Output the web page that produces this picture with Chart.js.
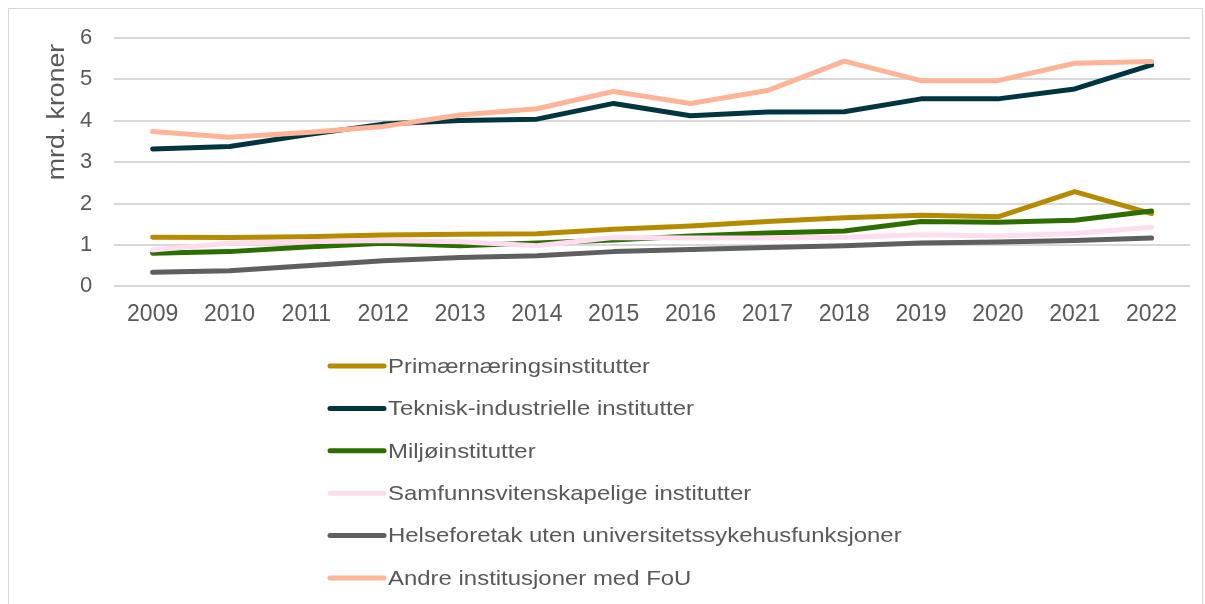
<!DOCTYPE html>
<html>
<head>
<meta charset="utf-8">
<script src="https://cdn.jsdelivr.net/npm/chart.js@4/dist/chart.umd.min.js"></script>
<style>
  html, body { margin: 0; padding: 0; background: #fff; }
  #wrap { width: 1205px; height: 604px; position: relative; }
</style>
</head>
<body>
<div id="wrap"><canvas id="chart" width="1205" height="604"></canvas></div>
<script>
// Data
const years = ['2009', '2010', '2011', '2012', '2013', '2014', '2015', '2016', '2017', '2018', '2019', '2020', '2021', '2022'];
const seriesNames = [
    'Primærnæringsinstitutter',
    'Teknisk-industrielle institutter',
    'Miljøinstitutter',
    'Samfunnsvitenskapelige institutter',
    'Helseforetak uten universitetssykehusfunksjoner',
    'Andre institusjoner med FoU'
];
const primaer   = [1.19, 1.18, 1.20, 1.24, 1.26, 1.27, 1.38, 1.46, 1.57, 1.66, 1.72, 1.68, 2.29, 1.76];
const teknisk   = [3.32, 3.38, 3.66, 3.92, 4.01, 4.04, 4.42, 4.12, 4.21, 4.22, 4.53, 4.53, 4.77, 5.35];
const miljo     = [0.80, 0.84, 0.95, 1.04, 0.98, 1.05, 1.12, 1.22, 1.29, 1.34, 1.57, 1.55, 1.60, 1.82];
const samfunn   = [0.88, 1.04, 1.08, 1.11, 1.08, 0.98, 1.18, 1.17, 1.17, 1.19, 1.25, 1.22, 1.28, 1.43];
const helse     = [0.34, 0.38, 0.50, 0.62, 0.70, 0.74, 0.84, 0.89, 0.94, 0.98, 1.05, 1.07, 1.11, 1.17];
const andre     = [3.74, 3.60, 3.72, 3.86, 4.14, 4.29, 4.71, 4.42, 4.73, 5.44, 4.97, 4.97, 5.39, 5.43];
const yTicks = [0, 1, 2, 3, 4, 5, 6];
const yTitle = 'mrd. kroner';

const colors = ['#B78B00', '#00363F', '#2D6E00', '#FDDDEF', '#5F5F5F', '#FFB497'];
const allSeries = [primaer, teknisk, miljo, samfunn, helse, andre];

const textColor = '#595959';
const fontFamily = '"Liberation Sans", Arial, sans-serif';

// Frame, y title and a one-column legend under the plot
const extras = {
    id: 'extras',
    afterDraw(chart) {
        const ctx = chart.ctx;
        ctx.save();
        ctx.strokeStyle = '#d9d9d9';
        ctx.lineWidth = 1;
        ctx.strokeRect(8.5, 8.5, 1194, 700);

        // rotated axis title, text is a bit wider than plain Arial
        ctx.save();
        ctx.translate(58, 112);
        ctx.rotate(-Math.PI / 2);
        ctx.scale(1.16, 1);
        ctx.font = '23px ' + fontFamily;
        ctx.fillStyle = textColor;
        ctx.textAlign = 'center';
        ctx.textBaseline = 'middle';
        ctx.fillText(yTitle, 0, 0);
        ctx.restore();

        ctx.font = '21px ' + fontFamily;
        ctx.textBaseline = 'middle';
        ctx.textAlign = 'left';
        chart.data.datasets.forEach((ds, i) => {
            const y = 366 + i * 42.4;
            ctx.strokeStyle = ds.borderColor;
            ctx.lineWidth = 5;
            ctx.lineCap = 'round';
            ctx.beginPath();
            ctx.moveTo(330, y);
            ctx.lineTo(384, y);
            ctx.stroke();
            ctx.save();
            ctx.translate(388, y + 1);
            ctx.scale(1.14, 1);
            ctx.fillStyle = textColor;
            ctx.fillText(ds.label, 0, 0);
            ctx.restore();
        });
        ctx.restore();
    }
};

const datasets = allSeries.map((vals, i) => ({
    label: seriesNames[i],
    data: vals,
    borderColor: colors[i],
    backgroundColor: colors[i],
    borderWidth: 5,
    borderCapStyle: 'round',
    borderJoinStyle: 'round',
    pointRadius: 0,
    tension: 0,
    fill: false,
    order: allSeries.length - i
}));

new Chart(document.getElementById('chart').getContext('2d'), {
    type: 'line',
    data: { labels: years, datasets: datasets },
    options: {
        responsive: false,
        animation: false,
        layout: { padding: { left: 58, right: 15, top: 38, bottom: 262 } },
        plugins: {
            legend: { display: false },
            tooltip: { enabled: false }
        },
        scales: {
            x: {
                offset: true,
                grid: { display: false, drawTicks: false },
                border: { display: false },
                ticks: {
                    color: textColor,
                    font: { family: fontFamily, size: 23 },
                    padding: 14,
                    maxRotation: 0,
                    autoSkip: false
                }
            },
            y: {
                min: 0,
                max: 6,
                afterBuildTicks: axis => { axis.ticks = yTicks.map(v => ({ value: v })); },
                grid: { color: '#d9d9d9', lineWidth: 2, drawTicks: false },
                border: { display: false },
                ticks: {
                    color: textColor,
                    font: { family: fontFamily, size: 22 },
                    padding: 22
                }
            }
        }
    },
    plugins: [extras]
});
</script>
</body>
</html>
